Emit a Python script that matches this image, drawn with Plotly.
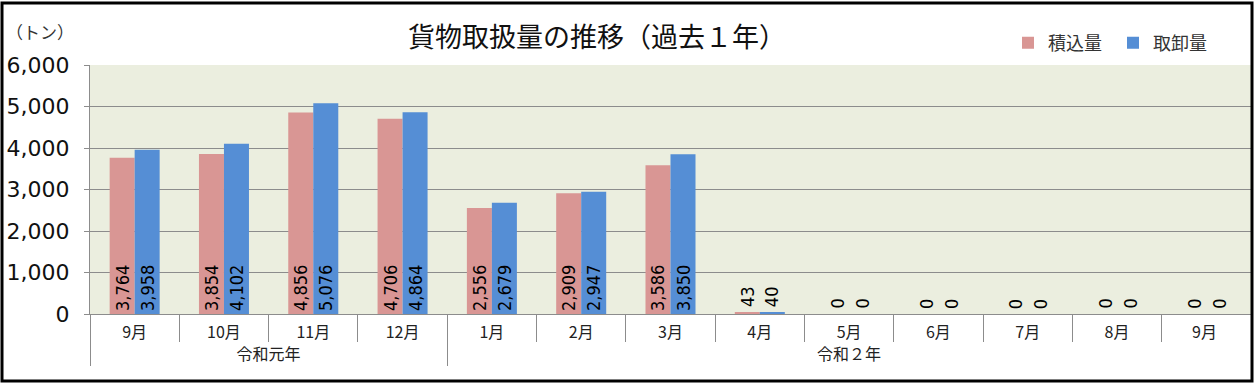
import plotly.graph_objects as go

years = ["令和元年"] * 4 + ["令和２年"] * 9
months = ["9月", "10月", "11月", "12月", "1月", "2月", "3月", "4月", "5月", "6月", "7月", "8月", "9月"]
loaded = [3764, 3854, 4856, 4706, 2556, 2909, 3586, 43, 0, 0, 0, 0, 0]
unloaded = [3958, 4102, 5076, 4864, 2679, 2947, 3850, 40, 0, 0, 0, 0, 0]
series_names = ["積込量", "取卸量"]
series_colors = ["#D99694", "#558ED5"]
y_ticks = [0, 1000, 2000, 3000, 4000, 5000, 6000]
title_text = "貨物取扱量の推移（過去１年）"
unit_text = "（トン）"

# multicategory axes merge identical inner labels; make repeated month names unique
# (a trailing space is invisible once rendered)
seen = {}
inner = []
for m in months:
    seen[m] = seen.get(m, 0) + 1
    inner.append(m + " " * (seen[m] - 1))

W, H = 1257, 386
ML, MR, MT, MB = 90, 6, 65, 72
PW, PH = W - ML - MR, H - MT - MB
BARGAP = 0.44
INSIDE_MIN = 1000  # values below this get their label above the bar

def px_x(p):
    return (p - ML) / PW

def px_y(p):
    return 1 - (p - MT) / PH

label_font = dict(family="DejaVu Sans Condensed, Liberation Sans", size=18, color="black")

def make_bar(name, vals, color):
    return go.Bar(
        name=name,
        x=[years, inner],
        y=vals,
        marker=dict(color=color, line=dict(width=0)),
        text=[f"{v:,}" if v >= INSIDE_MIN else "" for v in vals],
        textposition="inside",
        insidetextanchor="start",
        textangle=-90,
        textfont=label_font,
        cliponaxis=False,
    )

fig = go.Figure([make_bar(n, v, c) for n, v, c in
                 zip(series_names, [loaded, unloaded], series_colors)])

# labels for short bars: rotated text just above the bar top
bar_w = PW / len(months) * (1 - BARGAP) / 2
for k, vals in enumerate([loaded, unloaded]):
    offset = (k - 0.5) * bar_w
    for i, v in enumerate(vals):
        if v < INSIDE_MIN:
            fig.add_annotation(x=i, y=v, xref="x", yref="y", text=f"{v:,}",
                               textangle=-90, showarrow=False,
                               xanchor="center", yanchor="bottom",
                               xshift=offset, yshift=3, font=label_font)

fig.update_layout(
    width=W, height=H,
    margin=dict(l=ML, r=MR, t=MT, b=MB, autoexpand=False),
    paper_bgcolor="white",
    plot_bgcolor="#EBEEDF",
    barmode="group",
    bargap=BARGAP,
    bargroupgap=0,
    uniformtext=dict(mode="show", minsize=18),
    font=dict(family="Noto Sans CJK JP, Liberation Sans", color="#222"),
    title=dict(text=title_text, x=597 / W, xanchor="center",
               y=1 - 38 / H, yanchor="middle",
               font=dict(size=27, color="#111")),
    legend=dict(orientation="h", x=px_x(1008), xanchor="left", y=px_y(43), yanchor="middle",
                font=dict(size=18, color="#333"), bgcolor="rgba(0,0,0,0)",
                entrywidth=60, entrywidthmode="pixels",
                traceorder="normal"),
    showlegend=True,
)

fig.update_yaxes(
    range=[0, 6000], tickvals=y_ticks, tickformat=",",
    showgrid=True, gridcolor="#8C8C8C", gridwidth=1,
    ticks="outside", ticklen=5, tickcolor="#8C8C8C",
    showline=True, linecolor="#8C8C8C", linewidth=1,
    tickfont=dict(family="DejaVu Sans, Liberation Sans", size=22, color="#111"),
    ticklabelstandoff=10,
    zeroline=False, automargin=False,
)

fig.update_xaxes(
    type="multicategory",
    showline=True, linecolor="#8C8C8C", linewidth=1,
    ticks="outside", ticklen=27, tickcolor="#8C8C8C",
    showdividers=True, dividercolor="#8C8C8C", dividerwidth=1,
    tickfont=dict(family="Noto Sans CJK JP, Liberation Sans", size=16, color="#222"),
    ticklabelstandoff=4,
    automargin=False,
)

fig.add_annotation(text=unit_text, xref="paper", yref="paper", x=px_x(40), y=px_y(32),
                   xanchor="center", yanchor="middle", showarrow=False,
                   font=dict(size=17, color="#333"))

fig.add_shape(type="rect", xref="paper", yref="paper",
              x0=px_x(2), x1=px_x(1252), y0=px_y(381), y1=px_y(3),
              line=dict(color="black", width=3), fillcolor="rgba(0,0,0,0)", layer="above")

fig.write_html("out.html", config={"displayModeBar": False},
               post_script="document.body.style.margin='0';document.body.style.overflow='hidden';")
